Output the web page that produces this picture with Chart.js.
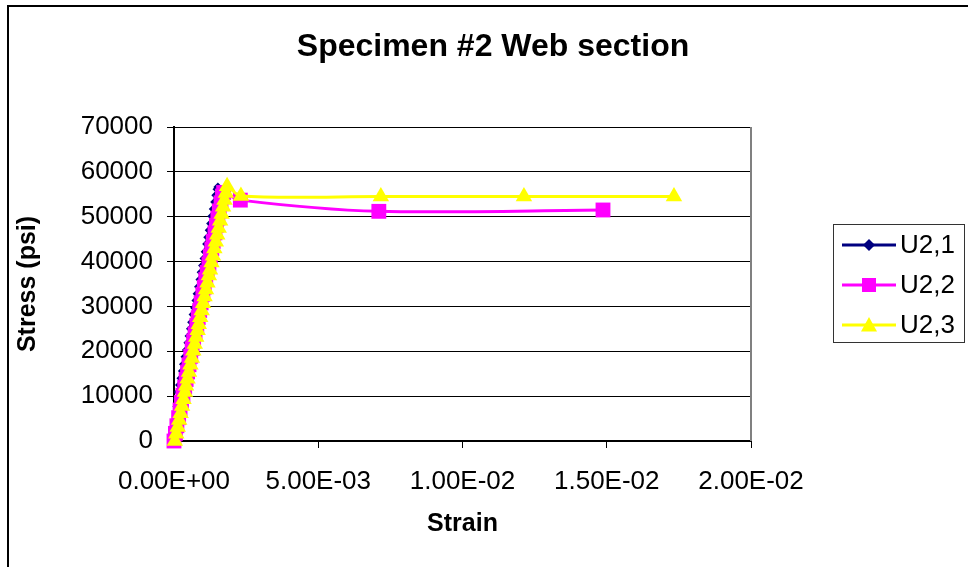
<!DOCTYPE html>
<html>
<head>
<meta charset="utf-8">
<script src="https://cdn.jsdelivr.net/npm/chart.js@4/dist/chart.umd.min.js"></script>
<style>
  html, body { margin: 0; padding: 0; background: #fff; }
</style>
</head>
<body>
<canvas id="myChart" width="968" height="567"></canvas>
<script>
// axis ticks
const xTickLabels = ['0.00E+00', '5.00E-03', '1.00E-02', '1.50E-02', '2.00E-02'];
const yTickLabels = ['0', '10000', '20000', '30000', '40000', '50000', '60000', '70000'];

// U2,1
const u21Strain = [0, 0.00002, 0.00004, 0.00006, 0.00008, 0.00010, 0.00012, 0.00015, 0.00019, 0.00024,
  0.00029, 0.00033, 0.00038, 0.00043, 0.00048, 0.00052, 0.00057, 0.00061, 0.00066, 0.00071,
  0.00076, 0.00080, 0.00085, 0.00090, 0.00094, 0.00099, 0.00104, 0.00108, 0.00113, 0.00117,
  0.00122, 0.00127, 0.00131, 0.00136, 0.00141, 0.00145, 0.00149, 0.00152];
const u21Stress = [0, 1500, 3100, 4600, 6200, 7700, 9400, 10900, 12500, 14000,
  15600, 17100, 18800, 20300, 21900, 23400, 25000, 26500, 28200, 29700,
  31300, 32800, 34400, 36000, 37600, 39100, 40700, 42200, 43900, 45400,
  47000, 48500, 50100, 51700, 53300, 54800, 56100, 56600];

// U2,2
const u22Strain = [0, 0.00005, 0.00010, 0.00016, 0.00021, 0.00026, 0.00031, 0.00037, 0.00042, 0.00047,
  0.00052, 0.00058, 0.00063, 0.00068, 0.00073, 0.00079, 0.00084, 0.00089, 0.00094, 0.00100,
  0.00105, 0.00110, 0.00115, 0.00121, 0.00126, 0.00131, 0.00136, 0.00142, 0.00147, 0.00152,
  0.00157, 0.00163, 0.00168, 0.00172, 0.0023, 0.0071, 0.01487];
const u22Stress = [0, 1700, 3400, 5200, 6900, 8600, 10200, 12000, 13700, 15400,
  17000, 18900, 20600, 22300, 23900, 25800, 27500, 29100, 30800, 32700,
  34300, 36000, 37600, 39500, 41200, 42800, 44500, 46400, 48100, 49700,
  51300, 53100, 54600, 55400, 53700, 51200, 51500];

// U2,3
const u23Strain = [0.00003, 0.00008, 0.00013, 0.00018, 0.00023, 0.00028, 0.00033, 0.00038, 0.00042, 0.00047,
  0.00052, 0.00057, 0.00062, 0.00067, 0.00072, 0.00077, 0.00082, 0.00086, 0.00091, 0.00096,
  0.00101, 0.00106, 0.00111, 0.00116, 0.00121, 0.00125, 0.00130, 0.00135, 0.00140, 0.00145,
  0.00150, 0.00155, 0.00160, 0.00165, 0.00170, 0.00175, 0.00180, 0.00184,
  0.00232, 0.00717, 0.01213, 0.01733];
const u23Stress = [0, 1600, 3100, 4700, 6200, 7800, 9300, 10900, 12300, 13900,
  15400, 17000, 18500, 20100, 21600, 23200, 24700, 26000, 27600, 29100,
  30700, 32200, 33800, 35300, 36900, 38200, 39800, 41300, 42900, 44400,
  46000, 47500, 49100, 50600, 52200, 53700, 55300, 56800,
  54600, 54500, 54500, 54500];

const FONT = '"Liberation Sans", Arial, sans-serif';

const pairs = (xs, ys) => xs.map((x, i) => ({ x: x, y: ys[i] }));

const series = [
  { label: 'U2,1', color: '#000080', style: 'diamond', strain: u21Strain, stress: u21Stress },
  { label: 'U2,2', color: '#FF00FF', style: 'square', strain: u22Strain, stress: u22Stress },
  { label: 'U2,3', color: '#FFFF00', style: 'triangle', strain: u23Strain, stress: u23Stress }
];

// marker shapes for the legend box
function marker(ctx, style, x, y, r) {
  ctx.beginPath();
  if (style === 'diamond') {
    ctx.moveTo(x, y - r); ctx.lineTo(x + r, y); ctx.lineTo(x, y + r); ctx.lineTo(x - r, y);
  } else if (style === 'square') {
    ctx.rect(x - r, y - r, r * 2, r * 2);
  } else {
    ctx.moveTo(x, y - r); ctx.lineTo(x + r, y + r * 0.8); ctx.lineTo(x - r, y + r * 0.8);
  }
  ctx.closePath();
  ctx.fill();
}

const decorations = {
  id: 'decorations',
  beforeDatasetsDraw(chart) {
    const { ctx, chartArea } = chart;
    ctx.save();
    ctx.strokeStyle = '#808080';
    ctx.lineWidth = 2;
    ctx.beginPath();
    ctx.moveTo(chartArea.right, chartArea.top);
    ctx.lineTo(chartArea.right, chartArea.bottom);
    ctx.stroke();
    ctx.restore();
  },
  afterDraw(chart) {
    const { ctx, chartArea } = chart;
    ctx.save();

    // outer frame
    ctx.strokeStyle = '#000';
    ctx.lineWidth = 2;
    ctx.beginPath();
    ctx.moveTo(8, 567);
    ctx.lineTo(8, 6);
    ctx.lineTo(968, 6);
    ctx.stroke();

    // title and axis titles
    ctx.fillStyle = '#000';
    ctx.textAlign = 'center';
    ctx.textBaseline = 'middle';
    ctx.font = 'bold 32px ' + FONT;
    ctx.fillText('Specimen #2 Web section', 493, 47);
    ctx.font = 'bold 25px ' + FONT;
    ctx.fillText('Strain', (chartArea.left + chartArea.right) / 2, 524);
    ctx.save();
    ctx.translate(28, (chartArea.top + chartArea.bottom) / 2);
    ctx.rotate(-Math.PI / 2);
    ctx.fillText('Stress (psi)', 0, 0);
    ctx.restore();

    // legend
    ctx.strokeStyle = '#333';
    ctx.lineWidth = 1;
    ctx.strokeRect(833.5, 224.5, 131, 118);
    ctx.font = '26px ' + FONT;
    ctx.textAlign = 'left';
    const sizes = { diamond: 6, square: 7, triangle: 8 };
    series.forEach((s, i) => {
      const y = 245 + i * 40;
      ctx.strokeStyle = s.color;
      ctx.fillStyle = s.color;
      ctx.lineWidth = 3;
      ctx.beginPath();
      ctx.moveTo(842, y);
      ctx.lineTo(896, y);
      ctx.stroke();
      marker(ctx, s.style, 869, y, sizes[s.style]);
      ctx.fillStyle = '#000';
      ctx.fillText(s.label, 900, y + 1);
    });
    ctx.restore();
  }
};

const pointStyles = { diamond: 'rectRot', square: 'rect', triangle: 'triangle' };
const pointSizes = { diamond: 4.5, square: 10.5, triangle: 9.5 };

const ctx = document.getElementById('myChart');
new Chart(ctx, {
  type: 'scatter',
  data: {
    datasets: series.map((s, i) => ({
      label: s.label,
      data: pairs(s.strain, s.stress),
      showLine: true,
      borderColor: s.color,
      backgroundColor: s.color,
      borderWidth: 3,
      pointStyle: pointStyles[s.style],
      pointRadius: pointSizes[s.style],
      pointBorderWidth: 0,
      pointBackgroundColor: s.color,
      tension: 0.3,
      clip: false,
      order: 3 - i
    }))
  },
  options: {
    responsive: false,
    animation: false,
    events: [],
    layout: { padding: { top: 127, right: 217, bottom: 70, left: 8 } },
    plugins: {
      legend: { display: false },
      title: { display: false },
      tooltip: { enabled: false }
    },
    scales: {
      x: {
        type: 'linear',
        min: 0,
        max: 0.02,
        afterFit: (scale) => { scale.height = 56; },
        afterBuildTicks: (scale) => { scale.ticks = xTickLabels.map((t, i) => ({ value: i * 0.005 })); },
        ticks: {
          color: '#000',
          font: { family: FONT, size: 26 },
          padding: 18,
          maxRotation: 0,
          callback: (v, i) => xTickLabels[i]
        },
        grid: { drawOnChartArea: false, color: '#000', tickLength: 7 },
        border: { color: '#000', width: 2 }
      },
      y: {
        min: 0,
        max: 70000,
        afterFit: (scale) => { scale.width = 166; },
        afterBuildTicks: (scale) => { scale.ticks = yTickLabels.map((t, i) => ({ value: i * 10000 })); },
        ticks: {
          color: '#000',
          font: { family: FONT, size: 26 },
          padding: 14,
          callback: (v, i) => yTickLabels[i]
        },
        grid: { color: '#000', lineWidth: 1, tickLength: 7 },
        border: { color: '#000', width: 2 }
      }
    }
  },
  plugins: [decorations]
});
</script>
</body>
</html>
